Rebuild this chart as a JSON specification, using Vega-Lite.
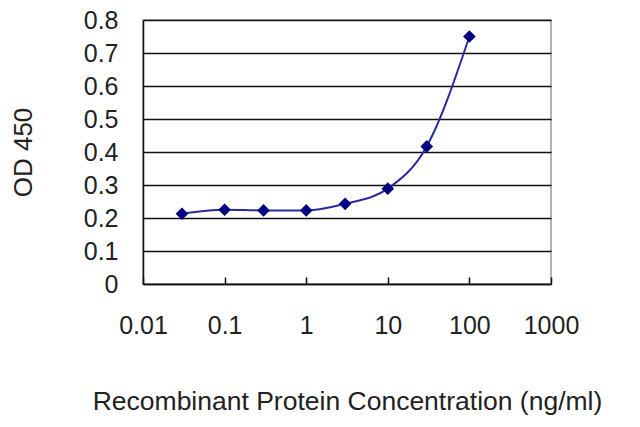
{
  "$schema": "https://vega.github.io/schema/vega-lite/v6.json",
  "width": 408,
  "height": 264,
  "autosize": "none",
  "padding": {"left": 143, "top": 20, "right": 89, "bottom": 143},
  "background": "white",
  "config": {
    "view": {"stroke": "#9a9a9a", "strokeWidth": 1.5},
    "font": "Liberation Sans"
  },
  "data": {
    "values": [
      {"conc": 0.03, "od": 0.213},
      {"conc": 0.1, "od": 0.225},
      {"conc": 0.3, "od": 0.223},
      {"conc": 1, "od": 0.223},
      {"conc": 3, "od": 0.243},
      {"conc": 10, "od": 0.289},
      {"conc": 30, "od": 0.417},
      {"conc": 100, "od": 0.75}
    ]
  },
  "encoding": {
    "x": {
      "field": "conc",
      "type": "quantitative",
      "scale": {"type": "log", "domain": [0.01, 1000], "nice": false},
      "axis": {
        "title": "Recombinant Protein Concentration (ng/ml)",
        "values": [0.01, 0.1, 1, 10, 100, 1000],
        "format": "~g",
        "grid": false,
        "domainColor": "#111",
        "domainWidth": 1.5,
        "tickColor": "#111",
        "tickWidth": 1.5,
        "tickSize": -7,
        "labelFontSize": 25,
        "labelColor": "#222",
        "labelPadding": 36,
        "labelFlush": false,
        "titleFontSize": 26.5,
        "titleFontWeight": "normal",
        "titleColor": "#222",
        "titlePadding": 50
      }
    },
    "y": {
      "field": "od",
      "type": "quantitative",
      "scale": {"domain": [0, 0.8], "nice": false},
      "axis": {
        "title": "OD 450",
        "values": [0, 0.1, 0.2, 0.3, 0.4, 0.5, 0.6, 0.7, 0.8],
        "format": "~g",
        "grid": true,
        "gridColor": "#111",
        "gridWidth": 1.5,
        "gridOpacity": 1,
        "domainColor": "#111",
        "domainWidth": 1.5,
        "ticks": false,
        "labelFontSize": 25,
        "labelColor": "#222",
        "labelPadding": 25,
        "titleFontSize": 26,
        "titleFontWeight": "normal",
        "titleColor": "#222",
        "titlePadding": 47
      }
    }
  },
  "layer": [
    {
      "mark": {"type": "line", "interpolate": "monotone", "color": "#2a2aa0", "strokeWidth": 2}
    },
    {
      "mark": {"type": "point", "shape": "diamond", "filled": true, "color": "#000080", "size": 160, "opacity": 1}
    }
  ]
}
